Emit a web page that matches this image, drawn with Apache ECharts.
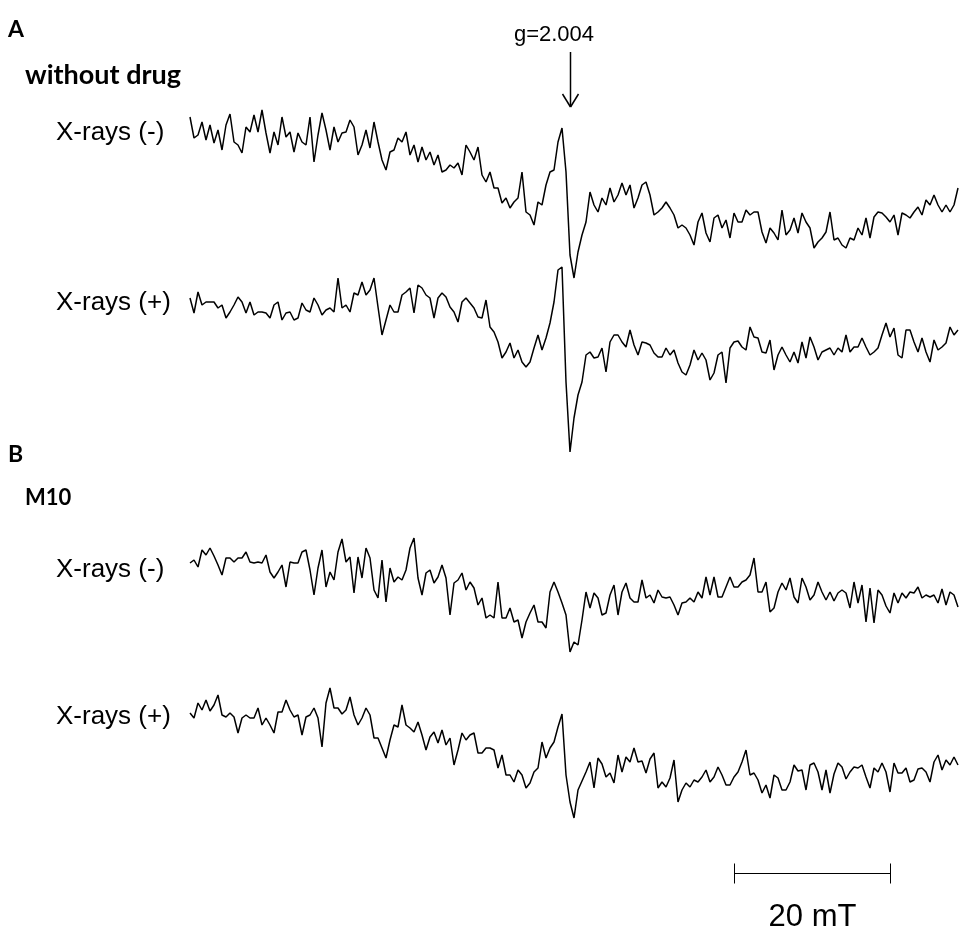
<!DOCTYPE html>
<html>
<head>
<meta charset="utf-8">
<script src="https://cdn.jsdelivr.net/npm/echarts@6/dist/echarts.min.js"></script>
<style>
  html, body { margin: 0; padding: 0; background: #fff; }
  #chart { width: 960px; height: 937px; }
</style>
</head>
<body>
<div id="chart"></div>
<script>
// Magnetic field sweep: evenly spaced points, in mT
const FIELD_STEP = 20 / 39;

// EPR spectra (arbitrary intensity units), one value per field point
const noDrugXrayOff = [
  83,62,65,78,60,75,57,70,50,75,86,58,55,47,73,68,85,68,90,67,47,68,55,83,63,68,48,67,58,55,83,38,65,87,70,50,73,58,67,68,80,73,45,55,70,52,78,58,40,30,48,50,62,58,68,45,55,38,53,40,48,35,45,28,30,
  35,32,37,25,55,48,40,53,25,18,28,12,12,-3,2,-8,-2,2,28,-12,-15,-25,-2,-5,15,28,30,58,72,28,-55,-78,-52,-35,-22,8,-5,-12,2,-5,12,-2,5,17,5,15,-8,2,15,18,5,-15,-12,-8,-2,-8,-15,-28,-25,-28,-35,-45,-22,
  -13,-33,-42,-18,-15,-28,-20,-38,-13,-22,-22,-10,-15,-12,-12,-32,-43,-28,-33,-40,-10,-35,-30,-18,-33,-13,-22,-28,-48,-42,-38,-32,-12,-40,-38,-45,-48,-38,-40,-28,-35,-18,-38,-17,-12,-13,-17,-22,-15,-35,-13,-15,-18,-12,-7,-15,0,-5,5,-5,-12,-5,-12,-5,12
];
const noDrugXrayOn = [
  32,17,38,25,28,28,28,22,25,12,18,25,33,28,17,28,15,18,18,17,12,25,28,10,17,18,10,12,27,20,18,32,25,15,20,22,18,52,22,25,18,37,35,48,35,40,52,23,-5,10,25,18,18,35,38,42,17,45,42,35,32,12,32,37,33,
  23,18,8,28,32,27,22,13,12,30,3,-2,-12,-28,-22,-13,-28,-20,-32,-37,-32,-18,-5,-20,-8,7,28,60,63,-52,-122,-88,-65,-52,-25,-22,-28,-27,-18,-42,-12,-5,-5,-12,-17,0,-15,-25,-12,-13,-15,-23,-27,-27,-18,-25,-20,-33,-42,-45,-35,-20,-30,
  -23,-30,-50,-43,-25,-22,-53,-18,-12,-11,-17,-20,3,-7,-8,-22,-23,-10,-40,-25,-17,-25,-32,-22,-33,-12,-28,-7,-17,-30,-22,-20,-18,-25,-18,-22,-5,-22,-17,-17,-8,-17,-25,-22,-18,-5,7,-7,2,-25,-28,0,0,-12,-22,-8,-22,-32,-10,-20,-17,-13,3,-5,0
];
const m10XrayOff = [
  7,10,3,20,15,22,14,5,-5,12,12,8,12,12,18,8,7,8,7,15,-2,-8,-2,5,-17,8,7,7,18,20,0,-25,2,20,-17,-2,-10,18,31,8,13,-23,13,-8,22,12,-20,-28,10,-32,2,-12,-7,-10,0,22,32,-8,-25,-3,0,-13,-7,5,-8,
  -45,-13,-10,-3,-20,-12,-18,-35,-28,-48,-45,-48,-12,-48,-48,-38,-52,-50,-68,-52,-43,-35,-52,-52,-58,-22,-12,-22,-33,-45,-82,-72,-75,-50,-22,-38,-23,-28,-45,-43,-25,-15,-45,-22,-13,-28,-32,-32,-10,-28,-25,-33,-20,-27,-28,-27,-35,-45,-33,-32,-28,-32,-22,
  -28,-7,-25,-7,-27,-27,-17,-7,-17,-17,-12,-10,-5,12,-22,-22,-12,-42,-38,-22,-13,-20,-8,-27,-33,-8,-17,-30,-25,-12,-22,-30,-22,-31,-23,-20,-23,-38,-12,-33,-15,-52,-18,-53,-20,-25,-36,-43,-23,-33,-23,-28,-22,-23,-17,-28,-25,-27,-25,-33,-19,-35,-22,-25,-37
];
const m10XrayOn = [
  27,22,37,30,40,29,35,45,25,23,27,23,7,22,25,22,22,32,15,22,15,7,28,28,40,30,23,25,5,23,25,32,22,-7,37,52,32,32,26,30,43,25,15,22,32,25,2,2,-8,-18,0,15,13,35,15,12,8,18,5,-10,3,8,-3,10,-5,
  2,-25,-10,7,0,5,7,-13,-13,-8,-8,-10,-28,-15,-35,-35,-42,-30,-35,-48,-43,-32,-28,-2,-18,-8,-2,13,26,-35,-62,-78,-50,-41,-32,-22,-48,-18,-24,-37,-33,-43,-15,-32,-17,-22,-8,-22,-21,-33,-19,-13,-48,-42,-47,-38,-20,-62,-50,-43,-47,-40,-42,
  -37,-30,-42,-37,-27,-35,-45,-45,-37,-32,-22,-10,-35,-33,-40,-53,-45,-58,-35,-38,-50,-50,-42,-25,-31,-30,-50,-25,-23,-32,-50,-30,-53,-34,-23,-27,-39,-32,-27,-28,-25,-37,-48,-28,-32,-23,-32,-52,-23,-33,-33,-28,-42,-40,-29,-28,-32,-42,-22,-15,-30,-20,-25,-17,-25
];

const traceNames = ['without drug, X-rays (-)', 'without drug, X-rays (+)', 'M10, X-rays (-)', 'M10, X-rays (+)'];
const traceLabels = ['X-rays (-)', 'X-rays (+)', 'X-rays (-)', 'X-rays (+)'];
const panelLetters = ['A', 'B'];
const panelTitles = ['without drug', 'M10'];
const gMarkText = 'g=2.004';
const gMarkField = 48.7;        // field position of the g=2.004 line, mT
const scaleBarStart = 69.75;    // mT
const scaleBarLength = 20;      // mT
const scaleBarText = '20 mT';

const traces = [noDrugXrayOff, noDrugXrayOn, m10XrayOff, m10XrayOn];
const fieldMax = (noDrugXrayOff.length - 1) * FIELD_STEP;

// vertical placement of each spectrum (pixels) and its intensity window
const panels = [
  { top: 100, height: 200, min: -100, max: 100 },
  { top: 230, height: 240, min: -140, max: 100 },
  { top: 490, height: 180, min: -100, max: 80 },
  { top: 670, height: 160, min: -90, max: 70 }
];
const labelY = [133, 303, 570, 717];

const chart = echarts.init(document.getElementById('chart'), null, { renderer: 'canvas' });

const LABEL_FONT = '26px "Liberation Sans", Arial, sans-serif';
const GMARK_FONT = '22px "Liberation Sans", Arial, sans-serif';
const HEAD_FONTS = ['bold 27px Lato, "Open Sans", sans-serif', 'bold 22px Lato, "Open Sans", sans-serif'];
const LETTER_FONT = 'bold 23px Lato, "Open Sans", sans-serif';

const option = {
  backgroundColor: '#ffffff',
  animation: false,
  grid: panels.map(p => ({ left: 190, width: 768, top: p.top, height: p.height })),
  xAxis: panels.map((p, i) => ({ type: 'value', gridIndex: i, min: 0, max: fieldMax, show: false })),
  yAxis: panels.map((p, i) => ({ type: 'value', gridIndex: i, min: p.min, max: p.max, show: false })),
  series: traces.map((vals, i) => ({
    name: traceNames[i],
    type: 'line',
    xAxisIndex: i,
    yAxisIndex: i,
    data: vals.map((v, k) => [k * FIELD_STEP, v]),
    showSymbol: false,
    symbol: 'none',
    smooth: false,
    lineStyle: { color: '#000', width: 1.5 },
    silent: true
  })),
  graphic: []
};
chart.setOption(option);

// annotations placed through the field axis
const px = f => chart.convertToPixel({ xAxisIndex: 0 }, f);
const gx = Math.round(px(gMarkField)) + 0.5;
const sb0 = Math.round(px(scaleBarStart)) + 0.5;
const sb1 = Math.round(px(scaleBarStart + scaleBarLength)) + 0.5;
const sbY = 873.5;

const txt = (text, x, y, font, align) => ({
  type: 'text', x, y, silent: true,
  style: { text, font, fill: '#000', align: align || 'left', verticalAlign: 'middle' }
});
const seg = (x1, y1, x2, y2, w) => ({
  type: 'line', silent: true,
  shape: { x1, y1, x2, y2 },
  style: { stroke: '#000', lineWidth: w || 1.5 }
});

const graphics = [
  txt(panelLetters[0], 8, 30, LETTER_FONT),
  txt(panelTitles[0], 25, 75, HEAD_FONTS[0]),
  txt(panelLetters[1], 8, 455, LETTER_FONT),
  txt(panelTitles[1], 25, 498, HEAD_FONTS[1]),
  txt(gMarkText, 554, 35, GMARK_FONT, 'center'),
  seg(gx, 52, gx, 107, 1.5),
  seg(gx - 8, 94, gx, 107, 1.5),
  seg(gx + 8, 94, gx, 107, 1.5),
  seg(sb0, sbY, sb1, sbY, 1),
  seg(sb0, sbY - 10, sb0, sbY + 10, 1),
  seg(sb1, sbY - 10, sb1, sbY + 10, 1),
  txt(scaleBarText, (sb0 + sb1) / 2, 917, '31px "Liberation Sans", Arial, sans-serif', 'center')
];
traceLabels.forEach((t, i) => graphics.push(txt(t, 56, labelY[i], LABEL_FONT)));

chart.setOption({ graphic: graphics });
</script>
</body>
</html>
